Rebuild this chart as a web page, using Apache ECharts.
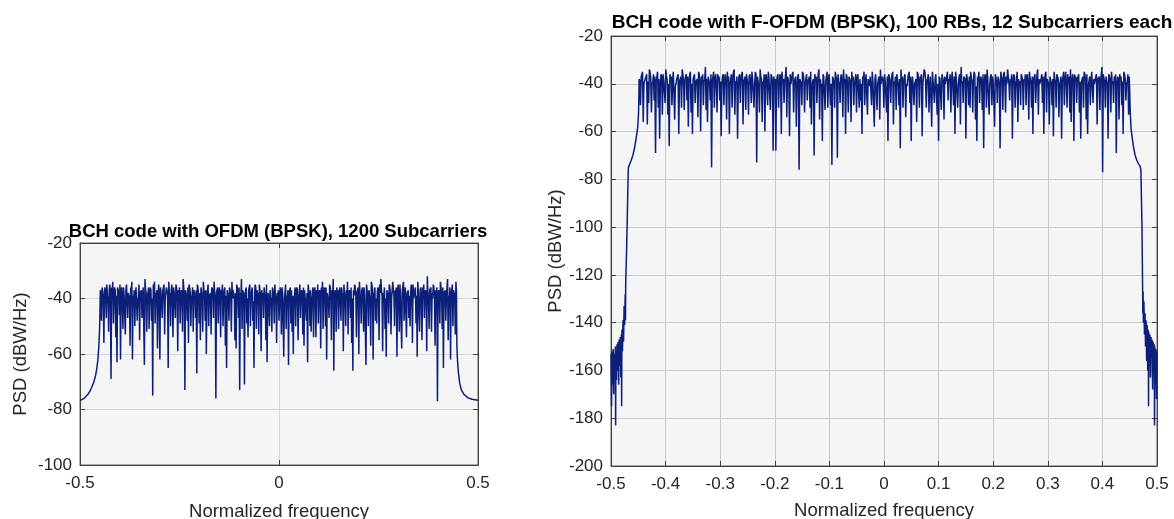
<!DOCTYPE html>
<html lang="en">
<head>
<meta charset="UTF-8" />
<title>BCH code PSD</title>
<script src="https://cdn.jsdelivr.net/npm/echarts@6/dist/echarts.min.js"></script>
<style>
  html, body, #chart { width: 100%; height: 100%; margin: 0; padding: 0; overflow: hidden; background: #fff; }
</style>
</head>
<body>
<div id="chart"></div>
<script>
// left panel: OFDM, 1200 subcarriers (dBW/Hz)
// in-band samples: A = every other bin (dips), B = the bins in between, spread evenly ofdmStart..ofdmEnd
const ofdmStart = -0.449, ofdmEnd = 0.446;
const ofdmBandA = [
  -37,-48,-38,-56,-36,-47,-39,-52,-35,-69,-38,-49,-36,-54,-63,-37,-46,-62,-36,-51,
  -39,-53,-35,-47,-38,-57,-37,-62,-40,-50,-36,-48,-39,-55,-38,-47,-36,-64,-37,-52,
  -38,-51,-36,-48,-75,-37,-49,-39,-58,-35,-62,-38,-47,-36,-53,-40,-37,-65,-39,-50,
  -35,-54,-38,-47,-36,-59,-39,-49,-37,-52,-36,-73,-38,-48,-56,-36,-50,-39,-52,-37,
  -47,-67,-36,-49,-55,-38,-52,-37,-48,-60,-37,-50,-39,-53,-36,-47,-38,-76,-38,-49,
  -36,-54,-39,-50,-37,-57,-65,-38,-48,-36,-52,-40,-37,-55,-58,-36,-47,-73,-39,-51,
  -37,-71,-38,-49,-54,-36,-50,-39,-48,-65,-35,-51,-38,-53,-37,-59,-40,-47,-36,-55,
  -63,-38,-50,-40,-52,-37,-49,-39,-56,-39,-48,-36,-53,-38,-61,-38,-51,-40,-64,-37,
  -49,-52,-60,-39,-50,-36,-55,-38,-47,-37,-53,-57,-40,-48,-63,-37,-50,-52,-39,-54,
  -36,-54,-40,-49,-37,-58,-39,-51,-36,-50,-62,-38,-47,-36,-55,-40,-66,-37,-52,-39,
  -51,-36,-48,-38,-59,-35,-50,-40,-53,-37,-47,-56,-66,-39,-36,-54,-38,-60,-38,-49,
  -36,-52,-40,-64,-37,-50,-39,-57,-35,-62,-38,-48,-49,-36,-55,-38,-37,-59,-40,-51,
  -61,-38,-49,-36,-53,-40,-37,-50,-38,-61,-35,-52,-39,-58,-37,-48,-36,-54,-38,-47,
  -50,-35,-56,-40,-37,-49,-61,-38,-52,-36,-55,-39,-47,-37,-59,-38,-51,-37,-52,-40,
  -36,-57,-39,-77,-37,-49,-36,-51,-65,-38,-48,-36,-55,-40,-62,-37,-50,-38,-53,-38
];
const ofdmBandB = [
  -38,-36,-40,-37,-39,-35,-41,-37,-38,-36,-34,-40,-37,-39,-36,-38,-35,-37,-41,-36,
  -39,-37,-35,-38,-40,-36,-34,-39,-37,-38,-36,-41,-35,-38,-37,-40,-36,-33,-38,-39,
  -36,-39,-37,-40,-35,-34,-38,-37,-39,-41,-36,-38,-37,-35,-40,-36,-39,-34,-38,-37,
  -40,-36,-38,-35,-39,-37,-36,-40,-38,-33,-39,-37,-41,-36,-35,-38,-40,-36,-37,-39,
  -37,-35,-39,-38,-36,-40,-34,-38,-37,-41,-35,-39,-38,-36,-37,-34,-40,-38,-36,-39,
  -38,-37,-35,-40,-36,-39,-37,-41,-36,-38,-34,-37,-40,-38,-35,-39,-36,-38,-33,-37,
  -39,-38,-36,-40,-37,-35,-39,-36,-41,-38,-36,-37,-39,-35,-40,-37,-38,-36,-40,-35,
  -40,-38,-37,-41,-36,-39,-35,-40,-38,-37,-41,-39,-36,-38,-40,-35,-39,-37,-38,-36,
  -37,-39,-40,-36,-38,-37,-41,-35,-39,-38,-36,-37,-40,-38,-35,-39,-37,-41,-36,-38,
  -39,-37,-35,-40,-38,-36,-34,-39,-37,-36,-38,-41,-35,-39,-37,-33,-40,-38,-36,-37,
  -38,-40,-36,-39,-35,-41,-37,-34,-39,-38,-36,-40,-37,-35,-39,-38,-36,-34,-40,-37,
  -39,-36,-40,-35,-38,-37,-41,-34,-37,-39,-36,-40,-38,-37,-35,-33,-39,-38,-36,-40,
  -37,-39,-35,-38,-40,-34,-39,-37,-36,-38,-41,-35,-39,-37,-34,-40,-36,-38,-37,-39,
  -38,-37,-35,-40,-36,-39,-34,-38,-37,-41,-36,-35,-39,-38,-32,-40,-37,-36,-38,-35,
  -39,-37,-36,-40,-38,-34,-39,-36,-38,-37,-40,-33,-39,-36,-38,-35,-37,-39,-34,-37
];
const ofdmEdgeLeft = [
  [-0.5,-76.8],[-0.49,-76],[-0.485,-75.3],[-0.48,-74.5],[-0.475,-73.4],[-0.47,-71.8],
  [-0.465,-70],[-0.461,-67.8],[-0.458,-65.5],[-0.455,-62],[-0.453,-58],[-0.451,-52],[-0.4498,-45]
];
const ofdmEdgeRight = [
  [0.4465,-50],[0.447,-57],[0.448,-61],[0.4495,-64.5],[0.451,-67],[0.454,-70.5],[0.458,-72.8],
  [0.465,-74.6],[0.475,-75.8],[0.485,-76.3],[0.5,-76.7]
];

// right panel: F-OFDM, 100 RBs x 12 subcarriers
const fofdmStart = -0.4485, fofdmEnd = 0.4505;
const fofdmBandA = [
  -38,-49,-36,-56,-40,-37,-57,-48,-35,-52,-39,-47,-69,-37,-50,-63,-36,-53,-39,-48,
  -37,-53,-66,-38,-49,-35,-55,-40,-37,-61,-39,-50,-36,-51,-38,-47,-58,-36,-52,-61,
  -37,-48,-39,-54,-36,-60,-40,-49,-38,-51,-56,-37,-47,-75,-39,-50,-36,-52,-38,-47,
  -62,-37,-49,-36,-55,-39,-61,-38,-50,-35,-53,-40,-63,-37,-48,-36,-57,-39,-51,-38,
  -53,-36,-48,-38,-50,-35,-73,-39,-52,-37,-56,-40,-60,-36,-49,-38,-51,-37,-68,-40,
  -68,-37,-50,-36,-61,-39,-48,-37,-54,-38,-62,-40,-36,-52,-39,-58,-37,-76,-38,-49,
  -36,-52,-40,-47,-38,-50,-57,-39,-70,-38,-48,-36,-55,-41,-64,-37,-51,-39,-50,-36,
  -49,-74,-38,-50,-37,-71,-39,-48,-36,-54,-40,-61,-37,-52,-38,-56,-39,-49,-38,-52,
  -36,-50,-47,-61,-38,-49,-36,-53,-40,-37,-49,-39,-58,-36,-51,-38,-55,-40,-37,-50,
  -39,-52,-64,-37,-48,-36,-57,-40,-51,-38,-49,-67,-39,-50,-37,-54,-41,-36,-48,-64,
  -37,-49,-39,-56,-36,-50,-38,-62,-40,-35,-50,-38,-52,-37,-58,-39,-48,-36,-53,-64,
  -38,-51,-36,-55,-40,-37,-47,-39,-52,-35,-49,-61,-38,-50,-37,-57,-40,-48,-37,-63,
  -36,-49,-50,-38,-52,-35,-55,-64,-39,-48,-37,-51,-67,-36,-50,-38,-53,-37,-49,-39,
  -58,-36,-48,-38,-67,-37,-51,-35,-52,-40,-37,-47,-39,-63,-36,-50,-38,-56,-40,-49,
  -37,-51,-39,-49,-36,-55,-38,-50,-61,-37,-48,-36,-53,-40,-38,-48,-61,-36,-52,-39,
  -57,-37,-49,-62,-38,-50,-36,-54,-39,-63,-37,-49,-35,-50,-40,-52,-56,-36,-64,-39,
  -48,-37,-52,-63,-38,-50,-36,-55,-61,-39,-49,-35,-48,-40,-37,-57,-38,-51,-36,-77,
  -38,-50,-37,-63,-36,-52,-40,-48,-39,-69,-37,-55,-38,-49,-61,-36,-47,-39,-53,-37
];
const fofdmBandB = [
  -39,-37,-35,-40,-38,-36,-39,-34,-38,-40,-36,-37,-39,-35,-38,-41,-37,-36,-39,-34,
  -38,-40,-36,-37,-39,-35,-41,-38,-36,-39,-37,-34,-40,-38,-36,-37,-39,-35,-40,-38,
  -36,-39,-38,-35,-40,-37,-36,-39,-33,-38,-37,-40,-36,-39,-35,-38,-41,-36,-37,-39,
  -40,-36,-38,-39,-35,-37,-40,-36,-38,-34,-39,-37,-41,-36,-38,-35,-39,-37,-36,-40,
  -37,-39,-35,-38,-40,-36,-37,-41,-34,-38,-39,-36,-37,-40,-35,-38,-36,-39,-37,-38,
  -39,-36,-40,-37,-35,-38,-39,-33,-37,-40,-36,-38,-35,-39,-37,-41,-36,-38,-40,-35,
  -38,-40,-36,-39,-37,-35,-41,-38,-36,-37,-39,-34,-38,-40,-36,-37,-39,-35,-38,-36,
  -40,-37,-39,-35,-38,-36,-40,-37,-39,-34,-38,-36,-41,-37,-39,-35,-37,-40,-36,-38,
  -36,-38,-40,-37,-35,-39,-36,-38,-41,-37,-35,-39,-38,-36,-40,-37,-34,-38,-39,-36,
  -39,-37,-36,-40,-38,-35,-39,-37,-36,-41,-38,-34,-37,-39,-36,-40,-38,-35,-37,-39,
  -37,-40,-38,-35,-39,-37,-36,-40,-34,-38,-39,-36,-41,-37,-35,-39,-38,-36,-40,-37,
  -38,-36,-39,-37,-40,-35,-38,-36,-39,-41,-37,-35,-38,-40,-36,-33,-39,-37,-38,-36,
  -40,-37,-35,-39,-38,-36,-41,-37,-35,-38,-40,-36,-39,-37,-34,-38,-40,-36,-37,-39,
  -36,-39,-37,-40,-35,-38,-36,-39,-37,-34,-40,-38,-36,-39,-37,-41,-35,-38,-39,-36,
  -39,-38,-36,-37,-40,-35,-39,-37,-38,-36,-41,-34,-38,-40,-36,-37,-39,-35,-38,-40,
  -37,-40,-38,-35,-39,-36,-38,-41,-37,-39,-35,-38,-40,-36,-37,-34,-39,-38,-36,-37,
  -38,-36,-39,-40,-37,-35,-38,-36,-41,-37,-39,-35,-38,-40,-36,-38,-37,-39,-33,-36,
  -39,-37,-40,-36,-38,-35,-39,-37,-36,-40,-38,-36,-37,-39,-35,-38,-40,-36,-37,-38
];
const fofdmEdgeLeft = [
  [-0.5,-153],[-0.499,-175],[-0.498,-152],[-0.497,-166],[-0.496,-151],[-0.495,-170],[-0.494,-153],
  [-0.493,-162],[-0.492,-150],[-0.4915,-183],[-0.491,-152],[-0.49,-164],[-0.489,-149],[-0.488,-160],
  [-0.487,-148],[-0.486,-166],[-0.485,-147],[-0.484,-158],[-0.483,-146],[-0.482,-163],[-0.481,-145],
  [-0.4805,-175],[-0.48,-143],[-0.479,-152],[-0.478,-139],[-0.477,-148],[-0.476,-133],[-0.475,-141],
  [-0.474,-128],[-0.4735,-139],[-0.473,-122],[-0.4725,-119],[-0.4715,-110],[-0.4705,-100],
  [-0.4695,-88],[-0.4685,-77],[-0.468,-75],[-0.466,-73.8],[-0.463,-72],[-0.46,-70],[-0.457,-67],
  [-0.454,-63],[-0.451,-58],[-0.4495,-52],[-0.449,-46]
];
const fofdmEdgeRight = [
  [0.451,-52],[0.4525,-59],[0.4566,-66],[0.46,-70],[0.463,-72],[0.466,-73.5],[0.469,-74.5],
  [0.4705,-76],[0.4715,-88],[0.4725,-100],[0.473,-111],[0.4735,-122],[0.474,-136],[0.4745,-127],
  [0.475,-140],[0.476,-131],[0.477,-145],[0.478,-136],[0.479,-150],[0.48,-139],[0.481,-156],
  [0.482,-141],[0.483,-160],[0.484,-143],[0.4845,-175],[0.485,-144],[0.486,-158],[0.487,-145],
  [0.488,-163],[0.489,-146],[0.49,-155],[0.491,-147],[0.492,-168],[0.493,-148],[0.494,-160],
  [0.495,-149],[0.4955,-183],[0.496,-150],[0.497,-165],[0.498,-151],[0.499,-172],[0.5,-152]
];

// put A and B bins in order and spread them evenly over the band
function bandPoints(start, end, a, b) {
  const vals = [];
  a.forEach((v, i) => {
    vals.push(v);
    if (i < a.length - 1) vals.push(b[i]);
  });
  const step = (end - start) / (vals.length - 1);
  return vals.map((v, i) => [start + i * step, v]);
}
const ofdmData = ofdmEdgeLeft.concat(bandPoints(ofdmStart, ofdmEnd, ofdmBandA, ofdmBandB), ofdmEdgeRight);
const fofdmData = fofdmEdgeLeft.concat(bandPoints(fofdmStart, fofdmEnd, fofdmBandA, fofdmBandB), fofdmEdgeRight);

const font = "'Liberation Sans', Arial, sans-serif";
const txt = "#262626";
const lineColor = "#0c1f7a";

function xAx(grid, interval, pos, gridColor, gap) {
  const main = pos === "bottom";
  return {
    type: "value", gridIndex: grid, position: pos, min: -0.5, max: 0.5, interval: interval,
    axisLine: { show: true, onZero: false, lineStyle: { color: "#404040", width: 1 } },
    axisTick: { show: true, inside: true, length: 5, lineStyle: { color: "#404040" } },
    axisLabel: { show: main, margin: 10, color: txt, fontSize: 17, fontFamily: font },
    splitLine: { show: main, lineStyle: { color: gridColor, width: 1 } },
    name: main ? "Normalized frequency" : "", nameLocation: "middle", nameGap: gap,
    nameTextStyle: { color: txt, fontSize: 18.5, fontFamily: font }
  };
}
function yAx(grid, min, pos, gridColor, gap) {
  const main = pos === "left";
  return {
    type: "value", gridIndex: grid, position: pos, min: min, max: -20, interval: 20,
    axisLine: { show: true, onZero: false, lineStyle: { color: "#404040", width: 1 } },
    axisTick: { show: true, inside: true, length: 5, lineStyle: { color: "#404040" } },
    axisLabel: { show: main, margin: 8, color: txt, fontSize: 17, fontFamily: font },
    splitLine: { show: main, lineStyle: { color: gridColor, width: 1 } },
    name: main ? "PSD (dBW/Hz)" : "", nameLocation: "middle", nameGap: gap, nameRotate: 90,
    nameTextStyle: { color: txt, fontSize: 18.5, fontFamily: font }
  };
}

const chart = echarts.init(document.getElementById("chart"));
chart.setOption({
  animation: false,
  title: [
    { text: "BCH code with OFDM (BPSK), 1200 Subcarriers", left: 273, top: 217, textAlign: "center",
      textStyle: { color: "#000", fontSize: 18.5, fontWeight: "bold", fontFamily: font } },
    { text: "BCH code with F-OFDM (BPSK), 100 RBs, 12 Subcarriers each", left: 887, top: 8, textAlign: "center",
      textStyle: { color: "#000", fontSize: 19, fontWeight: "bold", fontFamily: font } }
  ],
  grid: [
    { left: 80, top: 243, width: 398, height: 222, outerBoundsMode: "none", show: true,
      backgroundColor: "#f5f5f5", borderColor: "#606060", borderWidth: 1 },
    { left: 611, top: 36, width: 546, height: 430, outerBoundsMode: "none", show: true,
      backgroundColor: "#f5f5f5", borderColor: "#606060", borderWidth: 1 }
  ],
  xAxis: [
    xAx(0, 0.5, "bottom", "#d6d6d6", 37), xAx(1, 0.1, "bottom", "#c8c8c8", 35),
    xAx(0, 0.5, "top", "#d6d6d6", 0), xAx(1, 0.1, "top", "#c8c8c8", 0)
  ],
  yAxis: [
    yAx(0, -100, "left", "#d6d6d6", 50), yAx(1, -200, "left", "#c8c8c8", 46),
    yAx(0, -100, "right", "#d6d6d6", 50), yAx(1, -200, "right", "#c8c8c8", 46)
  ],
  series: [
    { type: "line", xAxisIndex: 0, yAxisIndex: 0, data: ofdmData, showSymbol: false, symbol: "none",
      sampling: "none", lineStyle: { color: lineColor, width: 1.5 }, silent: true },
    { type: "line", xAxisIndex: 1, yAxisIndex: 1, data: fofdmData, showSymbol: false, symbol: "none",
      sampling: "none", lineStyle: { color: lineColor, width: 1.5 }, silent: true }
  ]
});
</script>
</body>
</html>
